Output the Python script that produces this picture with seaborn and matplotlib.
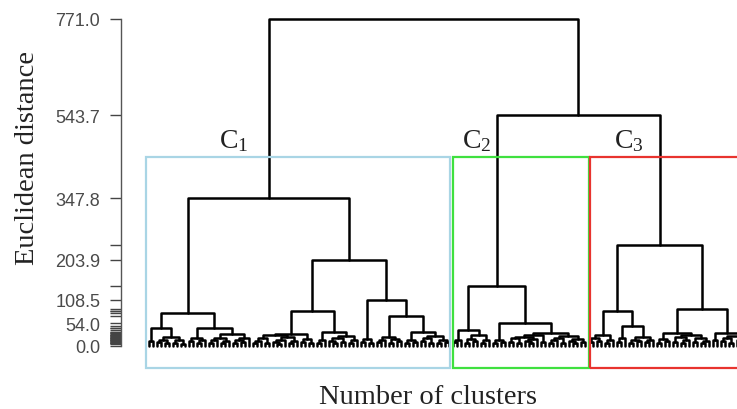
import numpy as np
import pandas as pd
import seaborn as sns
import matplotlib.pyplot as plt
from matplotlib.patches import Rectangle

# Merge heights between neighbouring leaves (ordered dendrogram).
# Each cluster = small bottom bushes joined by the larger merges.
c1_bushes = [
    [12],
    [9, 15, 6, 22, 8, 14, 5],
    [11, 18, 7, 13],
    [8, 14, 20, 7, 12, 28, 6, 15, 9, 18],
    [6, 12, 19, 8, 25, 10, 5, 14, 21, 7, 11, 28, 9, 16, 6],
    [8, 15],
    [12, 6, 18, 9, 23, 7, 13],
    [10, 17, 6],
    [9, 14, 22, 7, 16, 11],
    [7, 13, 9],
    [11, 19, 6, 24, 8, 15, 10],
]
c1_joins = [42.0, 77.8, 43.0, 347.8, 82.5, 33.7, 203.9, 108.5, 71.4, 33.0]

c2_bushes = [
    [9, 14],
    [8, 17, 12, 26, 7, 13],
    [6, 14, 9],
    [10, 18, 7, 22, 12, 6, 16, 25, 9],
    [8, 13, 20, 7, 24, 11, 6, 17, 10],
]
c2_joins = [37.7, 142.0, 54.0, 30.0]

c3_bushes = [
    [9, 20, 12, 27, 8, 15],
    [10, 18],
    [7, 15, 11, 22, 9, 14],
    [8, 16, 11],
    [9, 21, 7, 14, 26, 10, 18, 6, 12],
    [13],
    [11, 19, 8, 23, 14, 7, 17, 10, 21],
]
c3_joins = [83.0, 47.9, 238.8, 30.6, 86.5, 30.0]

top_joins = [771.0, 543.7]  # C1 | (C2, C3), then C2 | C3
labeled_heights = [771.0, 543.7, 347.8, 203.9, 108.5, 54.0, 0.0]
cluster_names = ["C$_1$", "C$_2$", "C$_3$"]
cluster_colors = ["#a9d5e5", "#3fe03f", "#e8332e"]
cut_height = 445.0
box_bottom = -52.0


def join(bushes, joins):
    gaps = list(bushes[0])
    for j, b in zip(joins, bushes[1:]):
        gaps += [j] + list(b)
    return gaps


c1 = join(c1_bushes, c1_joins)
c2 = join(c2_bushes, c2_joins)
c3 = join(c3_bushes, c3_joins)
gaps = c1 + [top_joins[0]] + c2 + [top_joins[1]] + c3
n_leaves = len(gaps) + 1

# build link segments (U shapes) by splitting at the largest gap
rows = []


def build(lo, hi):
    if lo == hi:
        return lo, 0.0
    k = lo + int(np.argmax(gaps[lo:hi]))
    xl, hl = build(lo, k)
    xr, hr = build(k + 1, hi)
    h = gaps[k]
    link = len(rows)
    for x, y in [(xl, hl), (xl, h), (xr, h), (xr, hr)]:
        rows.append({"link": link, "x": x, "h": y})
    return (xl + xr) / 2, h


build(0, n_leaves - 1)
links = pd.DataFrame(rows)

sns.set_style("white")
plt.rcParams["mathtext.fontset"] = "custom"
plt.rcParams["mathtext.rm"] = "Liberation Serif"
plt.rcParams["mathtext.it"] = "Liberation Serif"

fig = plt.figure(figsize=(7.37, 4.10), dpi=100)
ax = fig.add_axes([121 / 737, 38 / 410, 616 / 737, 360 / 410])

sns.lineplot(data=links, x="x", y="h", units="link", estimator=None, sort=False,
             color="black", linewidth=1.8, ax=ax)

# cluster boxes
sizes = [len(c1) + 1, len(c2) + 1, len(c3) + 1]
starts = np.cumsum([0] + sizes[:-1])
box_pad = [-0.75, -0.1, 0.25]
label_x = [17.5, 78.3, 116.3]
for i in range(3):
    left = starts[i] + box_pad[i]
    width = sizes[i] + 0.0
    ax.add_patch(Rectangle((left, box_bottom), width, cut_height - box_bottom,
                           fill=False, edgecolor=cluster_colors[i], linewidth=1.6,
                           zorder=3))
    ax.text(label_x[i], 469, cluster_names[i], ha="left", va="baseline",
            fontsize=20, family="Liberation Serif", color="#222222")

k = 771 / 327
ax.set_xlim(-7, 147)
ax.set_ylim(-25 * k, 771 + 8 * k)

ticks = sorted(set(gaps + [0.0]))
ax.set_yticks(ticks)
ax.set_yticklabels([f"{t:.1f}" if t in labeled_heights else "" for t in ticks],
                   family="Liberation Sans", fontsize=13, color="#4a4a4a")
ax.tick_params(axis="y", left=True, length=8, width=1, color="#444444", pad=7)
ax.set_xticks([])
ax.set_xlabel("")
ax.set_ylabel("")
for s in ["top", "right", "bottom"]:
    ax.spines[s].set_visible(False)
ax.spines["left"].set_bounds(0, 771)
ax.spines["left"].set_color("#555555")
ax.spines["left"].set_linewidth(1)

fig.text(28 / 737, 1 - 158 / 410, "Euclidean distance", rotation=90,
         ha="center", va="center", fontsize=20.5, family="Liberation Serif",
         color="#222222")
fig.text(428 / 737, 1 - 398 / 410, "Number of clusters", ha="center",
         va="center", fontsize=20.5, family="Liberation Serif", color="#222222")

fig.savefig("out.png", dpi=100)
